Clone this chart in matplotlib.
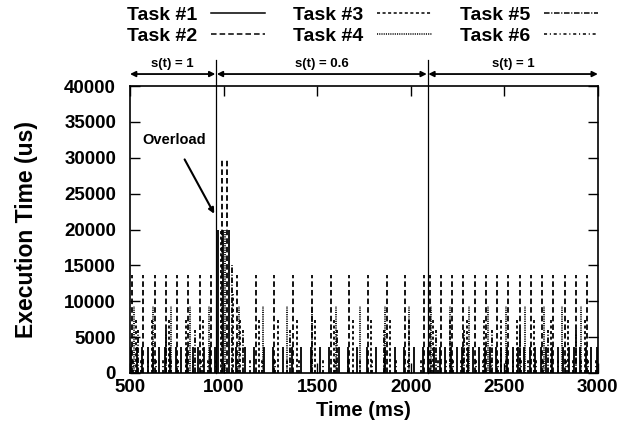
import numpy as np
import matplotlib
matplotlib.use('Agg')
import matplotlib.pyplot as plt
from matplotlib.lines import Line2D
import matplotlib.transforms as mtransforms

plt.rcParams['font.family'] = ['Liberation Sans', 'DejaVu Sans']
plt.rcParams['font.weight'] = 'bold'
plt.rcParams['lines.scale_dashes'] = False

# tasks and their schedule
tareas = ['Task #1', 'Task #2', 'Task #3', 'Task #4', 'Task #5', 'Task #6']
periodoNormal = [30, 60, 90, 100, 150, 40]      # ms, when s(t) = 1
periodoLento = [50, 100, 100, 130, 250, 65]     # ms, when s(t) = 0.6
desfase = [5, 12, 30, 21, 45, 18]               # ms
ejecucion = [3600, 13700, 7400, 9300, 6000, 2000]  # us

# phase changes (ms)
inicio, cambioLento, cambioRapido, fin = 500, 960, 2090, 3000
finSobrecarga = 1060

# overload burst right after the speed drop
sobrecargaT = [972, 985, 990, 998, 1010, 1018, 1028, 1045, 1052]
sobrecargaExec = [20000, 20000, 29800, 20000, 20000, 29800, 20000, 15000, 11000]
sobrecargaTarea = [0, 2, 1, 0, 3, 1, 0, 4, 2]

estilos = ['-', (0, (4, 2.2)), (0, (2.2, 1.8)), (0, (0.8, 0.8)),
           (0, (4, 1.2, 0.8, 1.2)), (0, (2.2, 2, 0.8, 2))]

fig = plt.figure(figsize=(6.28, 4.37), dpi=100)
ax = fig.add_axes([0.207, 0.1465, 0.745, 0.6565])

for i in range(len(tareas)):
    t1 = np.arange(inicio + desfase[i], cambioLento, periodoNormal[i])
    t2 = np.arange(finSobrecarga + desfase[i], cambioRapido, periodoLento[i])
    t3 = np.arange(cambioRapido + desfase[i], fin, periodoNormal[i])
    tiempos = np.concatenate([t1, t2, t3])
    ax.vlines(tiempos, 0, ejecucion[i], colors='k', linestyles=estilos[i], linewidth=1.3)

for t, e, k in zip(sobrecargaT, sobrecargaExec, sobrecargaTarea):
    ax.vlines(t, 0, e, colors='k', linestyles=estilos[k], linewidth=1.3)

ax.set_xlim(inicio, fin)
ax.set_ylim(0, 40000)
ax.set_xticks([500, 1000, 1500, 2000, 2500, 3000])
ax.set_yticks(np.arange(0, 40001, 5000))
ax.tick_params(direction='in', length=7, width=1, top=True, right=True, labelsize=13.5)
ax.tick_params(axis='y', pad=10)
ax.tick_params(axis='x', pad=4)
for s in ax.spines.values():
    s.set_linewidth(1.2)
ax.set_xlabel('Time (ms)', fontsize=14.5, fontweight='bold', labelpad=4)
ax.set_ylabel('Execution Time (us)', fontsize=16.5, fontweight='bold', labelpad=19)

# phase markers above the plot
trans = mtransforms.blended_transform_factory(ax.transData, ax.transAxes)
for t in [cambioLento, cambioRapido]:
    ax.plot([t, t], [0, 1.09], color='k', lw=0.9, transform=trans, clip_on=False)
fases = [(inicio, cambioLento - 4, 's(t) = 1'),
         (cambioLento + 4, cambioRapido - 4, 's(t) = 0.6'),
         (cambioRapido + 4, fin, 's(t) = 1')]
for a, b, txt in fases:
    ax.annotate('', xy=(a, 1.042), xytext=(b, 1.042), xycoords=trans, textcoords=trans,
                arrowprops=dict(arrowstyle='<|-|>', color='k', lw=1.3,
                                mutation_scale=8, shrinkA=0, shrinkB=0))
    ax.text((a + b) / 2, 1.056, txt, transform=trans, ha='center', va='bottom',
            fontsize=9.5, fontweight='bold')

ax.annotate('Overload', xy=(950, 22200), xytext=(735, 32500), ha='center', va='center',
            fontsize=10.5, fontweight='bold',
            arrowprops=dict(arrowstyle='-|>', color='k', lw=1.5, mutation_scale=8,
                            shrinkA=8, shrinkB=0))

manejadores = [Line2D([0], [0], color='k', lw=1.1, linestyle=estilos[i]) for i in range(len(tareas))]
fig.legend(manejadores, tareas, ncol=3, loc='upper center', bbox_to_anchor=(0.577, 1.025),
           frameon=False, markerfirst=False, handlelength=2.8, handletextpad=0.7,
           columnspacing=1.45, labelspacing=0.15, prop={'size': 14, 'weight': 'bold'})

plt.savefig('out.png', dpi=100)
